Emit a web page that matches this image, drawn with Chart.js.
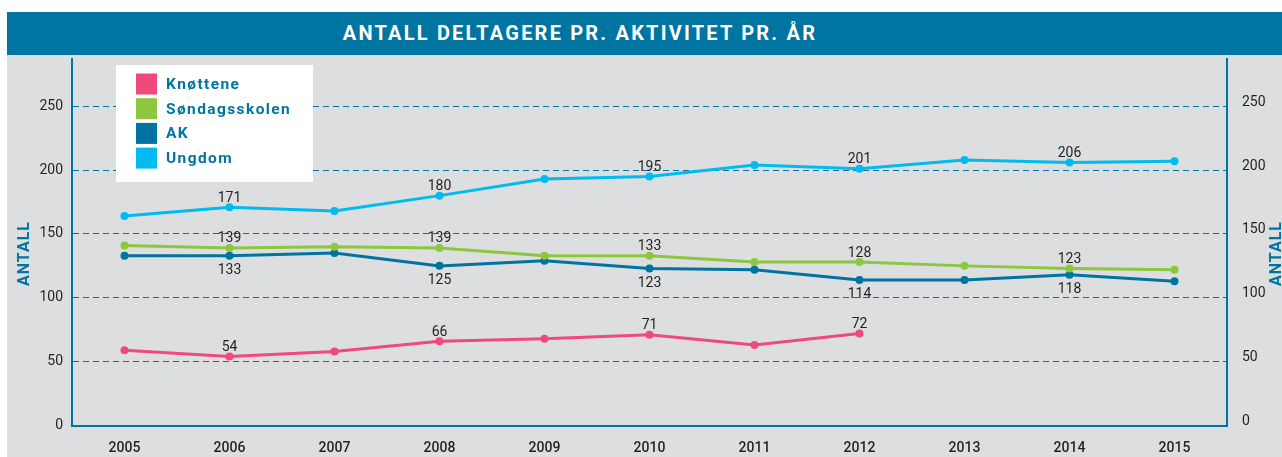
<!DOCTYPE html>
<html>
<head>
<meta charset="utf-8">
<script src="https://cdn.jsdelivr.net/npm/chart.js@4.4.0/dist/chart.umd.min.js"></script>
<style>
  html, body { margin: 0; padding: 0; background: #fff; }
  body { width: 1282px; height: 457px; position: relative; overflow: hidden; }
  #titlebar { position: absolute; left: 7px; top: 12px; width: 1275px; height: 43px; background: #0075a2; }
  #titlebar span { position: absolute; left: 0; top: 0; width: 1146px; text-align: center;
    color: #fff; font: bold 20px Roboto, sans-serif; line-height: 43px; letter-spacing: 2.2px; }
  #panel { position: absolute; left: 7px; top: 55px; width: 1275px; height: 402px; background: #dddee0; }
  #panel canvas { position: absolute; left: 0; top: 0; }
</style>
</head>
<body>
<div id="titlebar"><span>ANTALL DELTAGERE PR. AKTIVITET PR. ÅR</span></div>
<div id="panel"><canvas id="chart" width="1275" height="402"></canvas></div>
<script>
const years = ['2005', '2006', '2007', '2008', '2009', '2010', '2011', '2012', '2013', '2014', '2015'];
const knottene = [59, 54, 58, 66, 68, 71, 63, 72, null, null, null];
const sondagsskolen = [141, 139, 140, 139, 133, 133, 128, 128, 125, 123, 122];
const ak = [133, 133, 135, 125, 129, 123, 122, 114, 114, 118, 113];
const ungdom = [164, 171, 168, 180, 193, 195, 204, 201, 208, 206, 207];
const labeledYears = ['2006', '2008', '2010', '2012', '2014'];
const yMax = 287;
const yStep = 50;
const axisTitle = 'ANTALL';

const FONT = 'Roboto, "Noto Sans", sans-serif';
const BLUE = '#0075a2';
const INK = '#231f20';

function series(label, data, color, labelSide) {
    return {
        label: label,
        data: data,
        borderColor: color,
        backgroundColor: color,
        borderWidth: 3,
        pointRadius: 4,
        pointBorderWidth: 0,
        pointHoverRadius: 4,
        tension: 0,
        labelSide: labelSide
    };
}

// value labels, legend box and the two rotated axis titles
const decorations = {
    id: 'decorations',
    afterDatasetsDraw(chart) {
        const ctx = chart.ctx;
        ctx.save();
        ctx.font = '14px ' + FONT;
        ctx.fillStyle = INK;
        ctx.textAlign = 'center';
        ctx.textBaseline = 'alphabetic';
        chart.data.datasets.forEach((ds, i) => {
            chart.getDatasetMeta(i).data.forEach((pt, j) => {
                const v = ds.data[j];
                if (v == null || !labeledYears.includes(chart.data.labels[j])) return;
                const y = ds.labelSide === 'below' ? pt.y + 18.5 : pt.y - 5.5;
                ctx.fillText(String(v), pt.x, y);
            });
        });

        // legend
        ctx.fillStyle = '#fff';
        ctx.fillRect(109, 10, 197, 117);
        ctx.font = 'bold 15.5px ' + FONT;
        ctx.letterSpacing = '1.4px';
        ctx.textAlign = 'left';
        ctx.textBaseline = 'middle';
        chart.data.datasets.forEach((ds, i) => {
            const cy = 29 + i * 24.7;
            ctx.fillStyle = ds.borderColor;
            ctx.fillRect(129, cy - 10.5, 21, 21);
            ctx.fillStyle = BLUE;
            ctx.fillText(ds.label, 159, cy + 1);
        });

        // axis titles
        ctx.font = 'bold 16px ' + FONT;
        ctx.letterSpacing = '1px';
        ctx.textAlign = 'center';
        [17.5, 1270].forEach(x => {
            ctx.save();
            ctx.translate(x, 198.5);
            ctx.rotate(-Math.PI / 2);
            ctx.fillText(axisTitle, 0, 0);
            ctx.restore();
        });
        ctx.restore();
    }
};

function keepSteps(axis) {
    axis.ticks = axis.ticks.filter(t => t.value % yStep === 0);
}

new Chart(document.getElementById('chart'), {
    type: 'line',
    data: {
        labels: years,
        datasets: [
            series('Knøttene', knottene, '#ef4a7b', 'above'),
            series('Søndagsskolen', sondagsskolen, '#8dc63f', 'above'),
            series('AK', ak, '#0073a0', 'below'),
            series('Ungdom', ungdom, '#00bbf0', 'above')
        ]
    },
    options: {
        responsive: false,
        animation: false,
        layout: { padding: 0 },
        plugins: {
            legend: { display: false },
            tooltip: { enabled: false }
        },
        scales: {
            x: {
                offset: true,
                grid: { display: false },
                border: { display: true, color: BLUE, width: 2 },
                ticks: { color: INK, padding: 7, font: { family: FONT, size: 14, weight: '500' } },
                afterFit(axis) { axis.height = 31.5; axis.paddingLeft = 0; axis.paddingRight = 0; }
            },
            y: {
                position: 'left',
                min: 0,
                max: yMax,
                afterBuildTicks: keepSteps,
                grid: {
                    drawTicks: false,
                    lineWidth: 1,
                    color: ctx => ctx.tick && ctx.tick.value === 0 ? 'rgba(0,0,0,0)' : BLUE
                },
                border: { display: true, color: BLUE, width: 2, dash: [6, 4] },
                ticks: { stepSize: yStep, color: INK, padding: 9, font: { family: FONT, size: 14 } },
                afterFit(axis) { axis.width = 65; axis.paddingTop = 0; axis.paddingBottom = 0; }
            },
            y2: {
                position: 'right',
                min: 0,
                max: yMax,
                afterBuildTicks: keepSteps,
                grid: { drawOnChartArea: false, drawTicks: false },
                border: { display: true, color: BLUE, width: 2 },
                ticks: { stepSize: yStep, color: INK, padding: 15, labelOffset: -4, font: { family: FONT, size: 14 } },
                afterFit(axis) { axis.width = 55; axis.paddingTop = 0; axis.paddingBottom = 0; }
            }
        }
    },
    plugins: [decorations]
});
</script>
</body>
</html>
